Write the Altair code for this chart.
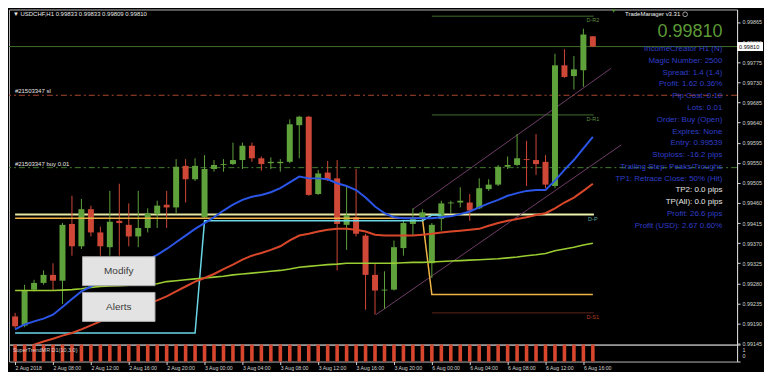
import altair as alt
import pandas as pd

# ---------------- values ----------------
bar = list(range(62))  # H1 bars, 2 Aug 04:00 ... 6 Aug 17:00

open_ = [0.99206, 0.99186, 0.99266, 0.99281, 0.99299, 0.99286, 0.99413, 0.99363, 0.99446, 0.99394,
         0.99361, 0.99420, 0.99411, 0.99385, 0.99404, 0.99435, 0.99456, 0.99450, 0.99543, 0.99513,
         0.99428, 0.99536, 0.99545, 0.99547, 0.99556, 0.99588, 0.99560, 0.99549, 0.99549, 0.99552,
         0.99634, 0.99653, 0.99480, 0.99528, 0.99515, 0.99411, 0.99428, 0.99387, 0.99299, 0.99264,
         0.99266, 0.99359, 0.99413, 0.99426, 0.99325, 0.99424, 0.99459, 0.99461, 0.99461, 0.99448,
         0.99491, 0.99501, 0.99541, 0.99545, 0.99558, 0.99556, 0.99552, 0.99498, 0.99768, 0.99744,
         0.99757, 0.99833]
high = [0.99214, 0.99277, 0.99288, 0.99309, 0.99325, 0.99415, 0.99476, 0.99469, 0.99454, 0.99407,
        0.99487, 0.99503, 0.99459, 0.99487, 0.99448, 0.99465, 0.99487, 0.99558, 0.99558, 0.99560,
        0.99567, 0.99556, 0.99558, 0.99595, 0.99595, 0.99595, 0.99564, 0.99562, 0.99558, 0.99647,
        0.99655, 0.99655, 0.99534, 0.99554, 0.99556, 0.99498, 0.99536, 0.99391, 0.99325, 0.99307,
        0.99376, 0.99422, 0.99448, 0.99446, 0.99415, 0.99465, 0.99465, 0.99495, 0.99480, 0.99515,
        0.99513, 0.99545, 0.99564, 0.99614, 0.99599, 0.99614, 0.99567, 0.99794, 0.99804, 0.99789,
        0.99850, 0.99833]
low = [0.99180, 0.99182, 0.99262, 0.99277, 0.99264, 0.99234, 0.99342, 0.99357, 0.99385, 0.99342,
       0.99342, 0.99342, 0.99363, 0.99361, 0.99394, 0.99404, 0.99404, 0.99437, 0.99461, 0.99509,
       0.99426, 0.99530, 0.99530, 0.99545, 0.99536, 0.99552, 0.99532, 0.99536, 0.99530, 0.99549,
       0.99560, 0.99476, 0.99478, 0.99509, 0.99309, 0.99355, 0.99385, 0.99221, 0.99210, 0.99223,
       0.99264, 0.99342, 0.99387, 0.99422, 0.99292, 0.99398, 0.99437, 0.99450, 0.99420, 0.99446,
       0.99487, 0.99498, 0.99536, 0.99543, 0.99498, 0.99523, 0.99493, 0.99493, 0.99740, 0.99714,
       0.99720, 0.99809]
close = [0.99184, 0.99264, 0.99281, 0.99299, 0.99286, 0.99411, 0.99363, 0.99446, 0.99394, 0.99363,
         0.99418, 0.99415, 0.99385, 0.99404, 0.99437, 0.99454, 0.99450, 0.99541, 0.99513, 0.99543,
         0.99536, 0.99545, 0.99547, 0.99556, 0.99588, 0.99560, 0.99547, 0.99552, 0.99552, 0.99636,
         0.99653, 0.99478, 0.99526, 0.99511, 0.99413, 0.99433, 0.99391, 0.99299, 0.99264, 0.99266,
         0.99361, 0.99415, 0.99424, 0.99439, 0.99411, 0.99459, 0.99461, 0.99465, 0.99443, 0.99493,
         0.99501, 0.99541, 0.99545, 0.99560, 0.99556, 0.99547, 0.99501, 0.99768, 0.99742, 0.99759,
         0.99837, 0.99810]

ma_fast = [0.99177, 0.99188, 0.99195, 0.99201, 0.99210, 0.99227, 0.99245, 0.99262, 0.99273, 0.99284,
           0.99292, 0.99301, 0.99312, 0.99322, 0.99333, 0.99344, 0.99357, 0.99372, 0.99387, 0.99402,
           0.99415, 0.99428, 0.99443, 0.99456, 0.99467, 0.99474, 0.99478, 0.99484, 0.99493, 0.99506,
           0.99519, 0.99515, 0.99515, 0.99513, 0.99504, 0.99498, 0.99489, 0.99472, 0.99452, 0.99437,
           0.99428, 0.99426, 0.99426, 0.99426, 0.99426, 0.99428, 0.99430, 0.99435, 0.99441, 0.99450,
           0.99459, 0.99467, 0.99476, 0.99482, 0.99487, 0.99489, 0.99489, 0.99510, 0.99534, 0.99556,
           0.99582, 0.99608]
ma_mid = [0.99128, 0.99136, 0.99143, 0.99150, 0.99156, 0.99163, 0.99169, 0.99177, 0.99186, 0.99195,
          0.99203, 0.99212, 0.99221, 0.99229, 0.99236, 0.99242, 0.99251, 0.99262, 0.99273, 0.99284,
          0.99292, 0.99301, 0.99312, 0.99322, 0.99333, 0.99342, 0.99348, 0.99355, 0.99363, 0.99376,
          0.99387, 0.99391, 0.99396, 0.99400, 0.99402, 0.99402, 0.99400, 0.99396, 0.99389, 0.99387,
          0.99387, 0.99387, 0.99387, 0.99389, 0.99391, 0.99394, 0.99396, 0.99398, 0.99400, 0.99402,
          0.99409, 0.99415, 0.99420, 0.99424, 0.99428, 0.99433, 0.99437, 0.99448, 0.99461, 0.99472,
          0.99487, 0.99503]
ma_slow = [0.99264, 0.99264, 0.99264, 0.99264, 0.99264, 0.99265, 0.99266, 0.99268, 0.99271, 0.99273,
           0.99274, 0.99275, 0.99276, 0.99277, 0.99278, 0.99279, 0.99284, 0.99286, 0.99288, 0.99290,
           0.99292, 0.99294, 0.99296, 0.99299, 0.99301, 0.99303, 0.99305, 0.99307, 0.99309, 0.99312,
           0.99316, 0.99318, 0.99320, 0.99322, 0.99323, 0.99325, 0.99325, 0.99325, 0.99325, 0.99325,
           0.99325, 0.99326, 0.99327, 0.99327, 0.99328, 0.99329, 0.99330, 0.99331, 0.99332, 0.99333,
           0.99334, 0.99335, 0.99337, 0.99339, 0.99342, 0.99344, 0.99347, 0.99353, 0.99357, 0.99361,
           0.99366, 0.99370]
step_orange = [0.99426, 0.99426, 0.99426, 0.99426, 0.99426, 0.99426, 0.99426, 0.99426, 0.99426, 0.99426,
               0.99426, 0.99426, 0.99426, 0.99426, 0.99426, 0.99426, 0.99426, 0.99426, 0.99426, 0.99426,
               0.99426, 0.99426, 0.99426, 0.99426, 0.99426, 0.99426, 0.99426, 0.99426, 0.99426, 0.99426,
               0.99426, 0.99426, 0.99426, 0.99426, 0.99426, 0.99426, 0.99426, 0.99426, 0.99426, 0.99426,
               0.99426, 0.99426, 0.99426, 0.99426, 0.99255, 0.99255, 0.99255, 0.99255, 0.99255, 0.99255,
               0.99255, 0.99255, 0.99255, 0.99255, 0.99255, 0.99255, 0.99255, 0.99255, 0.99255, 0.99255,
               0.99255, 0.99255]
cyan_bar = list(range(46))
step_cyan = [0.99169, 0.99169, 0.99169, 0.99169, 0.99169, 0.99169, 0.99169, 0.99169, 0.99169, 0.99169,
             0.99169, 0.99169, 0.99169, 0.99169, 0.99169, 0.99169, 0.99169, 0.99169, 0.99169, 0.99169,
             0.99420, 0.99420, 0.99420, 0.99420, 0.99420, 0.99420, 0.99420, 0.99420, 0.99420, 0.99420,
             0.99420, 0.99420, 0.99420, 0.99420, 0.99420, 0.99420, 0.99420, 0.99420, 0.99420, 0.99420,
             0.99420, 0.99420, 0.99420, 0.99420, 0.99433, 0.99433]
supertrend = [1, 1, 1, 1, 1, 1, 1, 1, 1, 1, 1, 1, 1, 1, 1, 1, 1, 1, 1, 1, 1, 1, 1, 1, 1, 1, 1, 1, 1, 1, 1,
              1, 1, 1, 1, 1, 1, 1, 1, 1, 1, 1, 1, 1, 1, 1, 1, 1, 1, 1, 1, 1, 1, 1, 1, 1, 1, 1, 1, 1, 1, 1]

price_ticks = [0.99145, 0.99190, 0.99235, 0.99280, 0.99325, 0.99370, 0.99415, 0.99460, 0.99505,
               0.99550, 0.99595, 0.99640, 0.99685, 0.99730, 0.99775, 0.99820, 0.99865]
time_tick_bars = [0, 4, 8, 12, 16, 20, 24, 28, 32, 36, 40, 44, 48, 52, 56, 60]
time_labels = ["2 Aug 2018", "2 Aug 08:00", "2 Aug 12:00", "2 Aug 16:00", "2 Aug 20:00",
               "3 Aug 00:00", "3 Aug 04:00", "3 Aug 08:00", "3 Aug 12:00", "3 Aug 16:00",
               "3 Aug 20:00", "6 Aug 00:00", "6 Aug 04:00", "6 Aug 08:00", "6 Aug 12:00", "6 Aug 16:00"]

pivot_names = ["D-R2", "D-R1", "D-P", "D-S1"]
pivot_prices = [0.99878, 0.99657, 0.99434, 0.99214]
pivot_from = [44, 44, 44, 44]
pivot_to = [61.1, 61.1, 61.1, 61.1]
level_price = [0.99434]
level_from = [0]
level_to = [61.1]

channel_x1 = [42.0, 38.1]
channel_p1 = [0.99446, 0.99210]
channel_x2 = [62.9, 64.0]
channel_p2 = [0.99761, 0.99590]

current_price = [0.99810]
sl_price = [0.99701]
entry_price = [0.99539]
sl_label = ["#21503347 sl"]
entry_label = ["#21503347 buy 0.01"]
shift_marker = [63.2]

symbol_line = "▼ USDCHF,H1 0.99833 0.99833 0.99809 0.99810"
panel_title = "TradeManager v3.31"
big_price = "0.99810"
info_lines = ["IncomeCreator H1 (N)", "Magic Number: 2500", "Spread: 1.4 (1.4)", "Profit: 1.62 0.36%",
              "Pip Cost: 0.10", "Lots: 0.01", "Order: Buy (Open)", "Expires: None", "Entry: 0.99539",
              "Stoploss: -16.2 pips", "Trailing Step: Peaks/Troughs", "TP1: Retrace Close: 50% (Hit)",
              "TP2: 0.0 pips", "TP(All): 0.0 pips", "Profit: 26.6 pips", "Profit (USD): 2.67 0.60%"]
white_lines = ["TP2: 0.0 pips", "TP(All): 0.0 pips"]
buttons = ["Modify", "Alerts"]
sub_title = "SuperTrendMR D1(10,3.0)"

# ---------------- layout / style ----------------
W = 730
HP = 336
HI = 17
SX = W / 743.0
SY = HP / 347.0


def px(x):
    return (x - 2) * SX


def py(y):
    return (y - 2) * SY


FONT = "Liberation Sans"
UP = "#5fa13b"
DOWN = "#cf4736"
AX = "#d4d4d4"

xscale = alt.Scale(domain=[-0.12, 75.7], nice=False, zero=False)
yscale = alt.Scale(domain=[0.99143, 0.99893], nice=False, zero=False)
X = alt.X("i:Q", scale=xscale, axis=None)


def Yq(field, axis=None):
    return alt.Y(field, scale=yscale, axis=axis)


yaxis = alt.Axis(orient="right", values=price_ticks, format=".5f", title=None, grid=False,
                 labelFontSize=5.4, labelColor=AX, labelFont=FONT, tickColor=AX, tickSize=3,
                 domain=True, domainColor=AX, labelPadding=2, labelOverlap=False, labelFlush=False)

# ---------- order / price lines ----------
cur_df = pd.DataFrame({"p": current_price})
cur_line = alt.Chart(cur_df).mark_rule(color="#3f6b2b", strokeWidth=1).encode(y=Yq("p:Q", yaxis))

sl_df = pd.DataFrame({"p": sl_price, "lab": sl_label})
sl_line = alt.Chart(sl_df).mark_rule(color="#a9472f", strokeWidth=1, strokeDash=[6, 3, 2, 3]).encode(y=Yq("p:Q"))
sl_text = alt.Chart(sl_df).mark_text(align="left", baseline="bottom", dy=-1, fontSize=6, color="#e6e6e6").encode(
    x=alt.value(px(8)), y=Yq("p:Q"), text="lab:N")

en_df = pd.DataFrame({"p": entry_price, "lab": entry_label})
en_line = alt.Chart(en_df).mark_rule(color="#3f7d2e", strokeWidth=1, strokeDash=[6, 3, 2, 3]).encode(y=Yq("p:Q"))
en_text = alt.Chart(en_df).mark_text(align="left", baseline="bottom", dy=-1, fontSize=6, color="#e6e6e6").encode(
    x=alt.value(px(8)), y=Yq("p:Q"), text="lab:N")

# ---------- pivots / levels / channel ----------
piv_df = pd.DataFrame({"name": pivot_names, "p": pivot_prices, "x1": pivot_from, "x2": pivot_to})
piv_line = alt.Chart(piv_df).mark_rule(strokeWidth=1).encode(
    x=alt.X("x1:Q", scale=xscale, axis=None), x2="x2:Q", y=Yq("p:Q"),
    color=alt.Color("name:N", scale=alt.Scale(domain=pivot_names,
                                              range=["#3b6d2b", "#3b6d2b", "#eef3b0", "#5c2419"]), legend=None))
piv_text = alt.Chart(piv_df).mark_text(fontSize=5.5, dy=4, dx=-1, align="center", baseline="middle").encode(
    x=alt.X("x2:Q", scale=xscale, axis=None), y=Yq("p:Q"), text="name:N",
    color=alt.Color("name:N", scale=alt.Scale(domain=pivot_names,
                                              range=["#5d8f42", "#5d8f42", "#56aaa8", "#b8402e"]), legend=None))

lvl_df = pd.DataFrame({"p": level_price, "x1": level_from, "x2": level_to})
lvl_line = alt.Chart(lvl_df).mark_rule(color="#e4e6a2", strokeWidth=2).encode(
    x=alt.X("x1:Q", scale=xscale, axis=None), x2="x2:Q", y=Yq("p:Q"))

ch_df = pd.DataFrame({"x1": channel_x1, "p1": channel_p1, "x2": channel_x2, "p2": channel_p2})
ch_line = alt.Chart(ch_df).mark_rule(color="#6f3c68", strokeWidth=1).encode(
    x=alt.X("x1:Q", scale=xscale, axis=None), x2="x2:Q", y=Yq("p1:Q"), y2="p2:Q")

# ---------- candles ----------
cdf = pd.DataFrame({"i": bar, "o": open_, "h": high, "l": low, "c": close})
cbase = alt.Chart(cdf).transform_calculate(dir="datum.c >= datum.o ? 'up' : 'down'")
ccol = alt.Color("dir:N", scale=alt.Scale(domain=["up", "down"], range=[UP, DOWN]), legend=None)
wicks = cbase.mark_rule(strokeWidth=1).encode(x=X, y=Yq("l:Q"), y2="h:Q", color=ccol)
bodies = cbase.mark_bar(size=6).encode(x=X, y=Yq("o:Q"), y2="c:Q", color=ccol)

# ---------- indicator lines ----------
mdf = pd.DataFrame({"i": bar, "fast": ma_fast, "mid": ma_mid, "slow": ma_slow, "orange": step_orange})
slow_line = alt.Chart(mdf).mark_line(color="#9acd32", strokeWidth=1.6, clip=True).encode(x=X, y=Yq("slow:Q"))
mid_line = alt.Chart(mdf).mark_line(color="#d9472a", strokeWidth=2, clip=True).encode(x=X, y=Yq("mid:Q"))
fast_line = alt.Chart(mdf).mark_line(color="#2b55e6", strokeWidth=2, clip=True).encode(x=X, y=Yq("fast:Q"))
orange_line = alt.Chart(mdf).mark_line(color="#efb445", strokeWidth=1.5, clip=True).encode(x=X, y=Yq("orange:Q"))
cydf = pd.DataFrame({"i": cyan_bar, "cyan": step_cyan})
cyan_line = alt.Chart(cydf).mark_line(color="#6ad6e6", strokeWidth=1.5, clip=True).encode(x=X, y=Yq("cyan:Q"))

# ---------- current price tag on the axis ----------
tag_base = alt.Chart(cur_df).transform_calculate(top="datum.p + 0.0001", bot="datum.p - 0.0001")
tag_rect = tag_base.mark_rect(color="#ffffff").encode(
    x=alt.value(W), x2=alt.value(W + 26), y=Yq("top:Q"), y2="bot:Q")
tag_text = tag_base.mark_text(align="left", baseline="middle", fontSize=5.6, color="#000000").encode(
    x=alt.value(W + 2), y=Yq("p:Q"), text=alt.Text("p:Q", format=".5f"))

# ---------- chart shift marker ----------
shift = alt.Chart(pd.DataFrame({"i": shift_marker})).mark_point(
    shape="triangle-down", filled=True, size=16, color="#4d8c2e", opacity=1).encode(x=X, y=alt.value(1.5))

# ---------- overlay texts ----------
overlay = []
overlay.append(alt.Chart(pd.DataFrame({"t": [symbol_line]})).mark_text(
    align="left", baseline="middle", fontSize=6, color="#e8e8e8").encode(
    x=alt.value(px(6)), y=alt.value(py(6.5)), text="t:N"))
overlay.append(alt.Chart(pd.DataFrame({"t": [panel_title]})).mark_text(
    align="right", baseline="middle", fontSize=6, color="#f0f0f0").encode(
    x=alt.value(px(687)), y=alt.value(py(7)), text="t:N"))
overlay.append(alt.Chart(pd.DataFrame({"t": [panel_title]})).mark_point(
    shape="circle", filled=False, size=22, color="#e0e0e0", strokeWidth=1).encode(
    x=alt.value(px(692)), y=alt.value(py(7))))
overlay.append(alt.Chart(pd.DataFrame({"t": [big_price]})).mark_text(
    align="right", baseline="middle", fontSize=18, color="#5c9a36").encode(
    x=alt.value(px(730)), y=alt.value(py(25)), text="t:N"))
for k, line in enumerate(info_lines):
    col = "#e6e6e6" if line in white_lines else "#2f3ec8"
    overlay.append(alt.Chart(pd.DataFrame({"t": [line]})).mark_text(
        align="right", baseline="middle", fontSize=8, color=col).encode(
        x=alt.value(px(730)), y=alt.value(py(43 + 12.2 * k)), text="t:N"))
for k, lab in enumerate(buttons):
    top = 258 + 37 * k
    bdf = pd.DataFrame({"t": [lab]})
    overlay.append(alt.Chart(bdf).mark_rect(color="#e3e3e3", stroke="#a9a9a9", strokeWidth=1).encode(
        x=alt.value(px(77)), x2=alt.value(px(151)), y=alt.value(py(top)), y2=alt.value(py(top + 30))))
    overlay.append(alt.Chart(bdf).mark_text(align="center", baseline="middle", fontSize=10, color="#3c3c3c").encode(
        x=alt.value(px(114)), y=alt.value(py(top + 15)), text="t:N"))

price_panel = alt.layer(
    cur_line, lvl_line, piv_line, piv_text, ch_line, sl_line, en_line,
    wicks, bodies,
    orange_line, cyan_line, slow_line, mid_line, fast_line,
    sl_text, en_text, shift, *overlay, tag_rect, tag_text
).resolve_scale(color="independent").resolve_axis(y="independent").properties(width=W, height=HP)

# ---------------- indicator sub-window ----------------
labels_js = "[" + ",".join("'" + t + "'" for t in time_labels) + "]"
xaxis = alt.Axis(orient="bottom", values=time_tick_bars, labelExpr=labels_js + "[round(datum.value / 4)]",
                 title=None, grid=False, domain=False, labelAlign="left", labelBaseline="top",
                 labelFontSize=5.2, labelColor=AX, labelFont=FONT, tickColor=AX, tickSize=3,
                 labelPadding=1, labelOverlap=False, labelFlush=False, labelBound=False)
iaxis = alt.Axis(orient="right", values=[0, 1], title=None, grid=False, labelFontSize=5.4, labelColor=AX,
                 labelFont=FONT, tickColor=AX, tickSize=3, domain=True, domainColor=AX, labelPadding=2,
                 labelFlush=True, labelFlushOffset=-3, format="d")
sdf = pd.DataFrame({"i": bar, "v": supertrend})
st_bars = alt.Chart(sdf).mark_bar(size=3.6, color="#d9462e").encode(
    x=alt.X("i:Q", scale=xscale, axis=xaxis),
    y=alt.Y("v:Q", scale=alt.Scale(domain=[0, 1], nice=False, zero=True), axis=iaxis))
st_text = alt.Chart(pd.DataFrame({"t": [sub_title]})).mark_text(
    align="left", baseline="middle", fontSize=5.5, color="#cfcfcf").encode(
    x=alt.value(px(6)), y=alt.value(5.5), text="t:N")
ind_panel = alt.layer(st_bars, st_text).properties(width=W, height=HI)

chart = alt.vconcat(price_panel, ind_panel, spacing=0, bounds="flush").properties(
    padding=0, background="#000000"
).configure_view(stroke="#b8b8b8", strokeWidth=1).configure_text(font=FONT)

chart.save("out.html", embed_options={"renderer": "svg", "actions": False})
